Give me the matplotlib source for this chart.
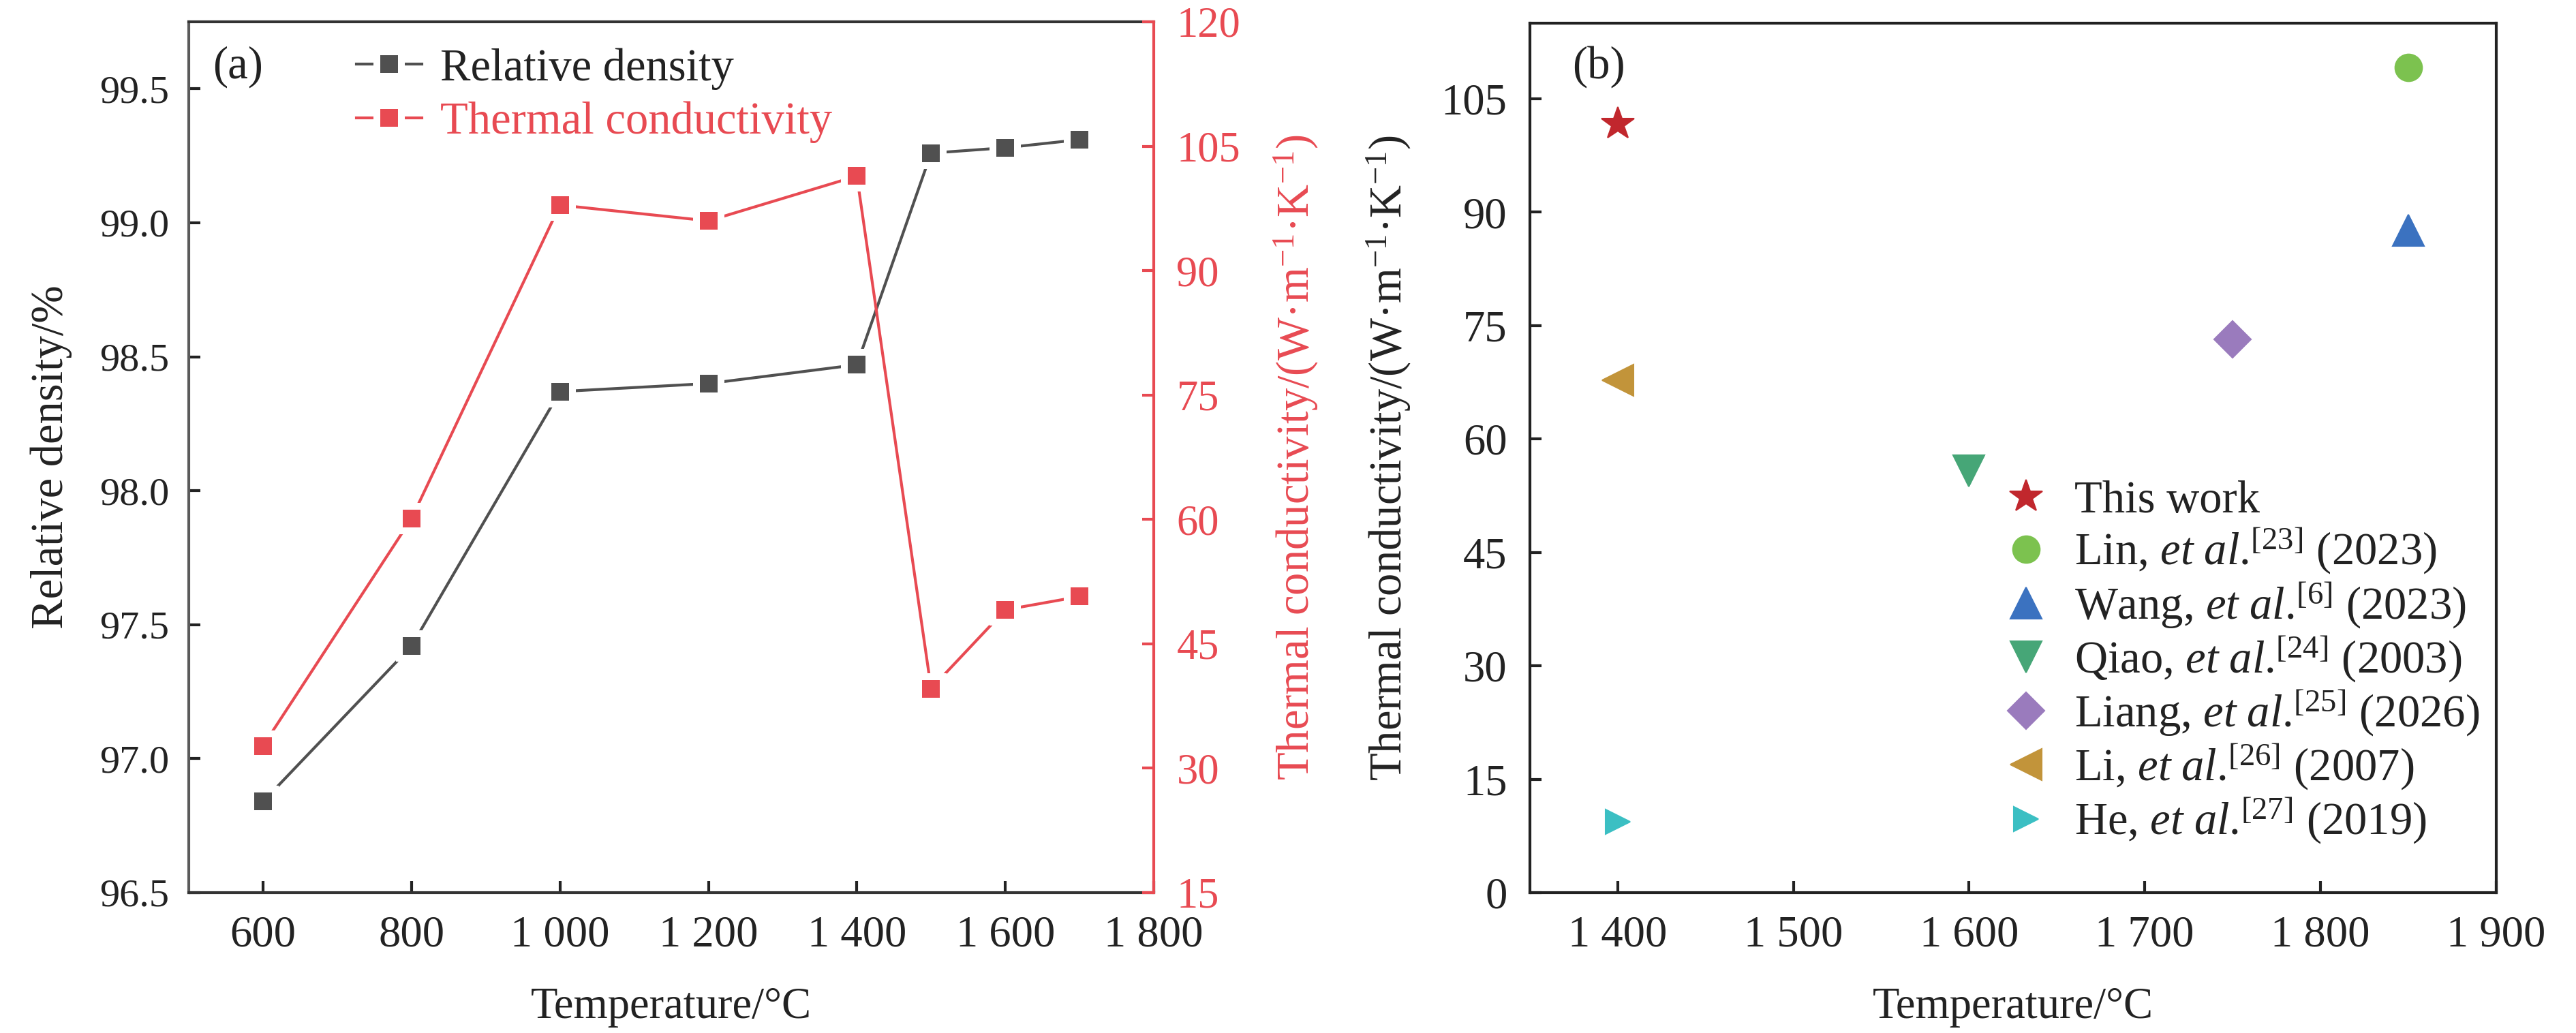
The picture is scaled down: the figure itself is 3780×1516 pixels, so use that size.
import matplotlib
matplotlib.use('Agg')
import matplotlib.pyplot as plt
import matplotlib.ticker as mticker
from matplotlib.lines import Line2D

# ── Data ──────────────────────────────────────────────────────────────
temps_a = [600, 800, 1000, 1200, 1400, 1500, 1600, 1700]
rel_density = [96.84, 97.42, 98.37, 98.40, 98.47, 99.26, 99.28, 99.31]
therm_cond = [32.7, 60.1, 97.9, 96.0, 101.4, 39.6, 49.1, 50.7]

ref_labels = ['This work',
              r'Lin, $\mathit{et\ al}$.$^{[23]}$ (2023)',
              r'Wang, $\mathit{et\ al}$.$^{[6]}$ (2023)',
              r'Qiao, $\mathit{et\ al}$.$^{[24]}$ (2003)',
              r'Liang, $\mathit{et\ al}$.$^{[25]}$ (2026)',
              r'Li, $\mathit{et\ al}$.$^{[26]}$ (2007)',
              r'He, $\mathit{et\ al}$.$^{[27]}$ (2019)']
ref_temps = [1400, 1850, 1850, 1600, 1750, 1400, 1400]
ref_cond = [101.7, 109.1, 87.6, 55.8, 73.2, 67.8, 9.4]
ref_markers = ['*', 'o', '^', 'v', 'D', '<', '>']
ref_sizes = [12, 9.5, 11, 11, 9, 11, 8.5]
ref_colors = ['#c1272d', '#7cc24f', '#3b72c0', '#46a677', '#9a7bbd', '#c2943a', '#3bbfc3']

# ── Style ─────────────────────────────────────────────────────────────
plt.rcParams['font.family'] = ['Liberation Serif', 'DejaVu Serif']
plt.rcParams['mathtext.fontset'] = 'custom'
plt.rcParams['mathtext.rm'] = 'Liberation Serif'
plt.rcParams['mathtext.it'] = 'Liberation Serif:italic'
plt.rcParams['mathtext.bf'] = 'Liberation Serif:bold'

BLACK = '#505050'
RED = '#e84a52'
TXT = '#222222'


def thousands(v, _):
    v = int(round(v))
    if v >= 1000:
        return f'{v // 1000} {v % 1000:03d}'
    return str(v)


fig = plt.figure(figsize=(12.6, 1516 / 300), dpi=300)
fig.patch.set_facecolor('white')

# ── (a) density + conductivity ────────────────────────────────────────
ax = fig.add_axes([0.0733, 0.1359, 0.3746, 0.843])
ax2 = ax.twinx()

ax.plot(temps_a, rel_density, color=BLACK, lw=1.0, zorder=2)
ax.plot(temps_a, rel_density, ls='none', marker='s', ms=8.6, mfc=BLACK,
        mec='white', mew=2.4, zorder=3)
ax2.plot(temps_a, therm_cond, color=RED, lw=1.0, zorder=2)
ax2.plot(temps_a, therm_cond, ls='none', marker='s', ms=8.6, mfc=RED,
         mec='white', mew=2.4, zorder=3)

ax.set_xlim(500, 1800)
ax.set_ylim(96.5, 99.75)
ax2.set_ylim(15, 120)
ax.set_xticks(range(600, 1801, 200))
ax.set_yticks([96.5, 97.0, 97.5, 98.0, 98.5, 99.0, 99.5])
ax2.set_yticks(range(15, 121, 15))
ax.xaxis.set_major_formatter(mticker.FuncFormatter(thousands))
ax.yaxis.set_major_formatter(mticker.FormatStrFormatter('%.1f'))

ax.tick_params(axis='x', direction='in', length=4, width=1, pad=8,
               labelsize=15.5, colors=TXT)
ax.tick_params(axis='y', direction='in', length=4, width=1, pad=7,
               labelsize=14, colors=TXT)
ax2.tick_params(axis='y', direction='in', length=4, width=1, pad=8,
                labelsize=15, colors=RED)

for s in ['top', 'bottom']:
    ax.spines[s].set_color('#333333')
    ax.spines[s].set_linewidth(1.0)
ax.spines['left'].set_color('#5a5a5a')
ax.spines['left'].set_linewidth(1.0)
ax.spines['right'].set_visible(False)
for s in ['top', 'bottom', 'left']:
    ax2.spines[s].set_visible(False)
ax2.spines['right'].set_color(RED)
ax2.spines['right'].set_linewidth(1.0)

ax.set_xlabel('Temperature/°C', fontsize=15.5, color=TXT, labelpad=11)
ax.set_ylabel('Relative density/%', fontsize=16, color=TXT, labelpad=9.5)
ax2.set_ylabel(r'Thermal conductivity/(W·m$^{-1}$·K$^{-1}$)', fontsize=16,
               color=RED, labelpad=11)

ax.text(0.025, 0.972, '(a)', transform=ax.transAxes, ha='left', va='top',
        fontsize=16, color=TXT)

h_a = [Line2D([], [], color=BLACK, lw=1.0, marker='s', ms=8.6, mfc=BLACK,
              mec='white', mew=2.4),
       Line2D([], [], color=RED, lw=1.0, marker='s', ms=8.6, mfc=RED,
              mec='white', mew=2.4)]
ax2.legend(h_a, ['Relative density', 'Thermal conductivity'],
           loc='upper left', bbox_to_anchor=(0.174, 0.97), frameon=False,
           fontsize=16, handlelength=1.44, handletextpad=0.4,
           borderpad=0, borderaxespad=0, labelspacing=0.25,
           labelcolor=[TXT, RED])

# ── (b) comparison with literature ────────────────────────────────────
bx = fig.add_axes([0.5939, 0.1359, 0.3751, 0.8417])
for t, c, m, s, col, lab in zip(ref_temps, ref_cond, ref_markers, ref_sizes,
                                ref_colors, ref_labels):
    bx.plot(t, c, ls='none', marker=m, ms=s, color=col, mec=col, mew=0.5,
            label=lab)

bx.set_xlim(1350, 1900)
bx.set_ylim(0, 115)
bx.set_xticks(range(1400, 1901, 100))
bx.set_yticks(range(0, 106, 15))
bx.xaxis.set_major_formatter(mticker.FuncFormatter(thousands))
bx.tick_params(direction='in', length=4, width=1, pad=8, labelsize=15.5,
               colors=TXT)
for s in bx.spines.values():
    s.set_color('#222222')
    s.set_linewidth(1.0)

bx.set_xlabel('Temperature/°C', fontsize=15.5, color=TXT, labelpad=11)
bx.set_ylabel(r'Thermal conductivity/(W·m$^{-1}$·K$^{-1}$)', fontsize=16,
              color=TXT, labelpad=10)
bx.text(0.044, 0.974, '(b)', transform=bx.transAxes, ha='left', va='top',
        fontsize=16, color=TXT)

bx.legend(loc='upper left', bbox_to_anchor=(0.485, 0.474), frameon=False,
          fontsize=16, handlelength=1.2, handletextpad=0.47, borderpad=0,
          borderaxespad=0, labelspacing=0.1, labelcolor=TXT)

plt.savefig('out.png', dpi=300, facecolor='white')
print('Saved: out.png')
